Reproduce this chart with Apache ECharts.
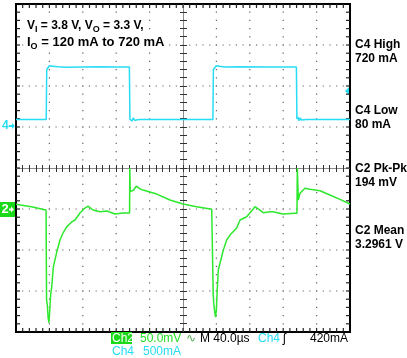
<!DOCTYPE html>
<html><head><meta charset="utf-8">
<script src="https://cdn.jsdelivr.net/npm/echarts@6/dist/echarts.min.js"></script>
<style>html,body{margin:0;padding:0;background:#fff}#c{width:407px;height:358px}</style>
</head><body><div id="c"></div>
<script>
// ---- data (time in µs, Ch4 in mA, Ch2 in mV relative to its reference marker) ----
const ch4Time    = [0, 20, 36.2, 36.8, 38, 40, 42, 44, 46, 50, 60, 80, 100, 120, 135.8, 136.4, 137.5, 139, 140.5, 142, 144, 148, 170, 200, 235.8, 236.4, 238, 240, 242, 244, 246, 250, 270, 300, 335.8, 336.4, 337.5, 339, 340.5, 342, 344, 348, 370, 400];
const ch4Current = [80, 80, 80, 690, 700, 735, 715, 730, 712, 722, 718, 720, 722, 720, 720, 85, 105, 60, 100, 70, 90, 80, 80, 78, 80, 690, 700, 735, 712, 728, 715, 720, 722, 720, 720, 85, 110, 65, 100, 72, 88, 80, 80, 80];
const ch2Time   = [0, 20, 33, 36, 36.6, 37.5, 38.5, 39.5, 40.5, 41.5, 42.8, 44.7, 48.7, 52.7, 56.3, 60.7, 66.7, 70.7, 76.6, 82.6, 86.2, 92.2, 100.6, 109, 118.6, 128.1, 136, 136.3, 136.8, 137.5, 141, 144, 149, 152.1, 168.5, 184.4, 200, 216.4, 234.4, 235.8, 236.2, 237, 238, 239, 240, 241, 242.3, 248.3, 252.3, 256.3, 264.3, 268.3, 276.3, 286.2, 296.2, 304.2, 307.8, 319.8, 334.1, 336.5, 336.9, 338.1, 340.1, 346.1, 352.1, 364.1, 376, 388, 400];
const ch2Ripple = [4.5, 1.2, -1.8, -2.4, -112, -118, -134, -140, -124, -106, -96, -72, -54, -39, -30.5, -23, -17, -14.6, -6.1, 0, 2.4, -2.4, -4.5, -3.7, -7.3, -6.1, -6, 48.8, 20, 18, 22, 26.8, 23, 22, 17, 9.8, 4.9, 1.6, -1.6, -2.4, -106, -118, -127, -133, -124, -100, -75.6, -51.2, -39, -33, -24.4, -14.6, -10.6, 1.6, -5.7, -4.5, -4.5, -7.3, -6.5, -6.5, 48.8, 9.8, 17.9, 24, 22.8, 21.1, 15.9, 10.6, 4.9];

// ---- scope settings ----
const timePerDiv = 40, timeDivs = 10;
const vertDivs = 8, minorPerDiv = 5;
const ch4PerDiv = 500, ch4ZeroDiv = 1.024;   // Ch4 ground marker, divisions above centre
const ch2PerDiv = 50,  ch2ZeroDiv = -0.976;  // Ch2 reference marker, divisions above centre

const topNote = ['V{s|I} = 3.8 V, V{s|O} = 3.3 V,', 'I{s|O} = 120 mA to 720 mA'];
const sideLabels = [['C4 High', '720 mA'], ['C4 Low', '80 mA'], ['C2 Pk-Pk', '194 mV'], ['C2 Mean', '3.2961 V']];
const statusRow1 = [['Ch2', 'box'], ['50.0mV', 'g'], ['\u223F', 'gy'], ['M 40.0\u00B5s', 'k'], ['Ch4', 'c'], ['\u0283', 'k'], ['420mA', 'k']];
const statusRow2 = [['Ch4', 'c'], ['500mA', 'c']];

const GREEN = '#2ee82e', CYAN = '#27dcf5';
const FONT = '"Liberation Sans", Arial, sans-serif';

const ch4Data = ch4Time.map((t, i) => [t, ch4Current[i]]);
const ch2Data = ch2Time.map((t, i) => [t, ch2Ripple[i]]);

const grid = {left: 16, top: 4, width: 334, height: 328, show: true, borderColor: '#000', borderWidth: 2, backgroundColor: '#fff'};

// graticule: dotted division lines, border ticks and centre cross, placed through the axes
function renderGraticule(params, api) {
  const kids = [];
  const add = (x, y, w, h, fill) => kids.push({type: 'rect', shape: {x: x, y: y, width: w, height: h}, style: {fill: fill}, silent: true});
  const tMax = timePerDiv * timeDivs;
  const xs = [], ys = [];
  for (let k = 0; k <= timeDivs * minorPerDiv; k++) xs.push(api.coord([k * timePerDiv / minorPerDiv, 0])[0]);
  for (let k = 0; k <= vertDivs * minorPerDiv; k++) ys.push(api.coord([0, -vertDivs / 2 + k / minorPerDiv])[1]);
  const xL = xs[0], xR = xs[xs.length - 1], yB = ys[0], yT = ys[ys.length - 1];
  const xC = api.coord([tMax / 2, 0])[0], yC = api.coord([0, 0])[1];
  const dotCol = '#666', d = 1.2;
  const tickCol = '#222';
  for (let i = 1; i < timeDivs; i++) {
    if (i === timeDivs / 2) continue;
    const x = xs[i * minorPerDiv];
    for (let k = 1; k < ys.length - 1; k++) add(x - d / 2, ys[k] - d / 2, d, d, dotCol);
  }
  for (let j = 1; j < vertDivs; j++) {
    if (j === vertDivs / 2) continue;
    const y = ys[j * minorPerDiv];
    for (let k = 1; k < xs.length - 1; k++) add(xs[k] - d / 2, y - d / 2, d, d, dotCol);
  }
  // centre cross
  add(xL, Math.floor(yC), xR - xL, 1, '#8a8a8a');
  add(Math.floor(xC), yT, 1, yB - yT, '#8a8a8a');
  for (let k = 1; k < xs.length - 1; k++) add(Math.floor(xs[k]), Math.floor(yC) - 3, 1, 7, '#333');
  for (let k = 1; k < ys.length - 1; k++) add(Math.floor(xC) - 3, Math.floor(ys[k]), 7, 1, '#333');
  // border ticks
  for (let k = 1; k < xs.length - 1; k++) {
    add(xs[k] - 0.6, yT, 1.2, 4, tickCol);
    add(xs[k] - 0.6, yB - 4, 1.2, 4, tickCol);
  }
  for (let k = 1; k < ys.length - 1; k++) {
    add(xL, ys[k] - 0.6, 4, 1.2, tickCol);
    add(xR - 4, ys[k] - 0.6, 4, 1.2, tickCol);
  }
  return {type: 'group', children: kids};
}

const hiddenAxis = {show: false, axisLine: {onZero: false}, splitLine: {show: false}};
const xAxes = [Object.assign({type: 'value', min: 0, max: timePerDiv * timeDivs, interval: timePerDiv}, hiddenAxis)];
const yAxes = [
  Object.assign({type: 'value', min: -vertDivs / 2, max: vertDivs / 2, interval: 1}, hiddenAxis),
  Object.assign({type: 'value', min: (-vertDivs / 2 - ch4ZeroDiv) * ch4PerDiv, max: (vertDivs / 2 - ch4ZeroDiv) * ch4PerDiv}, hiddenAxis),
  Object.assign({type: 'value', min: (-vertDivs / 2 - ch2ZeroDiv) * ch2PerDiv, max: (vertDivs / 2 - ch2ZeroDiv) * ch2PerDiv}, hiddenAxis)
];

const graphics = [];
const noteFont = [12, 13];
const noteY = [17, 34];
topNote.forEach((t, i) => {
  graphics.push({type: 'text', x: 27, y: noteY[i], z: 10, style: {text: t, font: 'bold ' + noteFont[i] + 'px ' + FONT, fill: '#000', lineHeight: 17,
    backgroundColor: '#fff',
    rich: {s: {fontSize: 9, fontWeight: 'bold', fontFamily: FONT, verticalAlign: 'bottom', fill: '#000'}}}});
});
const sideY = [45, 111, 169, 231];
sideLabels.forEach((pair, i) => {
  pair.forEach((t, j) => {
    graphics.push({type: 'text', x: 355, y: sideY[i] + j * 13.5, style: {text: t, font: 'bold 12px ' + FONT, fill: '#000', verticalAlign: 'middle'}});
  });
});
graphics.push({type: 'text', x: 2, y: 126, style: {text: '4', font: 'bold 12px ' + FONT, fill: CYAN, verticalAlign: 'middle'}});
graphics.push({type: 'polygon', shape: {points: [[9, 125], [12, 125], [12, 123], [15, 126], [12, 129], [12, 127], [9, 127]]}, style: {fill: CYAN}});
graphics.push({type: 'rect', shape: {x: 0, y: 202, width: 15, height: 15}, style: {fill: '#19d919'}});
graphics.push({type: 'text', x: 1.5, y: 209.5, style: {text: '2', font: 'bold 13px ' + FONT, fill: '#fff', verticalAlign: 'middle'}});
graphics.push({type: 'polygon', shape: {points: [[9, 208.5], [11, 208.5], [11, 206.5], [14, 209.5], [11, 212.5], [11, 210.5], [9, 210.5]]}, style: {fill: '#fff'}});
graphics.push({type: 'polygon', shape: {points: [[345, 91], [349, 87], [349, 95]]}, style: {fill: CYAN}});
const colors = {g: '#22dd22', gy: '#55aa55', k: '#000', c: CYAN, box: '#fff'};
const row1X = [112, 140, 186, 200, 258, 283, 310];
statusRow1.forEach((item, i) => {
  if (item[1] === 'box') graphics.push({type: 'rect', shape: {x: 111, y: 332, width: 21, height: 12}, style: {fill: '#19d919'}});
  graphics.push({type: 'text', x: row1X[i], y: 338.5, z: 5, style: {text: item[0], font: '12px ' + FONT, fill: colors[item[1]], verticalAlign: 'middle'}});
});
const row2X = [112, 143];
statusRow2.forEach((item, i) => {
  graphics.push({type: 'text', x: row2X[i], y: 351.5, style: {text: item[0], font: '12px ' + FONT, fill: colors[item[1]], verticalAlign: 'middle'}});
});

const chart = echarts.init(document.getElementById('c'));
chart.setOption({
  animation: false,
  backgroundColor: '#fff',
  grid: grid,
  xAxis: xAxes,
  yAxis: yAxes,
  series: [
    {type: 'custom', name: 'graticule', coordinateSystem: 'cartesian2d', xAxisIndex: 0, yAxisIndex: 0, data: [[0, 0]], renderItem: renderGraticule, clip: false, silent: true, z: 1},
    {type: 'line', name: 'Ch4', xAxisIndex: 0, yAxisIndex: 1, data: ch4Data, showSymbol: false, symbol: 'none', lineStyle: {color: CYAN, width: 1.5}, z: 3},
    {type: 'line', name: 'Ch2', xAxisIndex: 0, yAxisIndex: 2, data: ch2Data, showSymbol: false, symbol: 'none', lineStyle: {color: GREEN, width: 1.5}, z: 3}
  ],
  graphic: graphics
});
</script>
</body></html>
